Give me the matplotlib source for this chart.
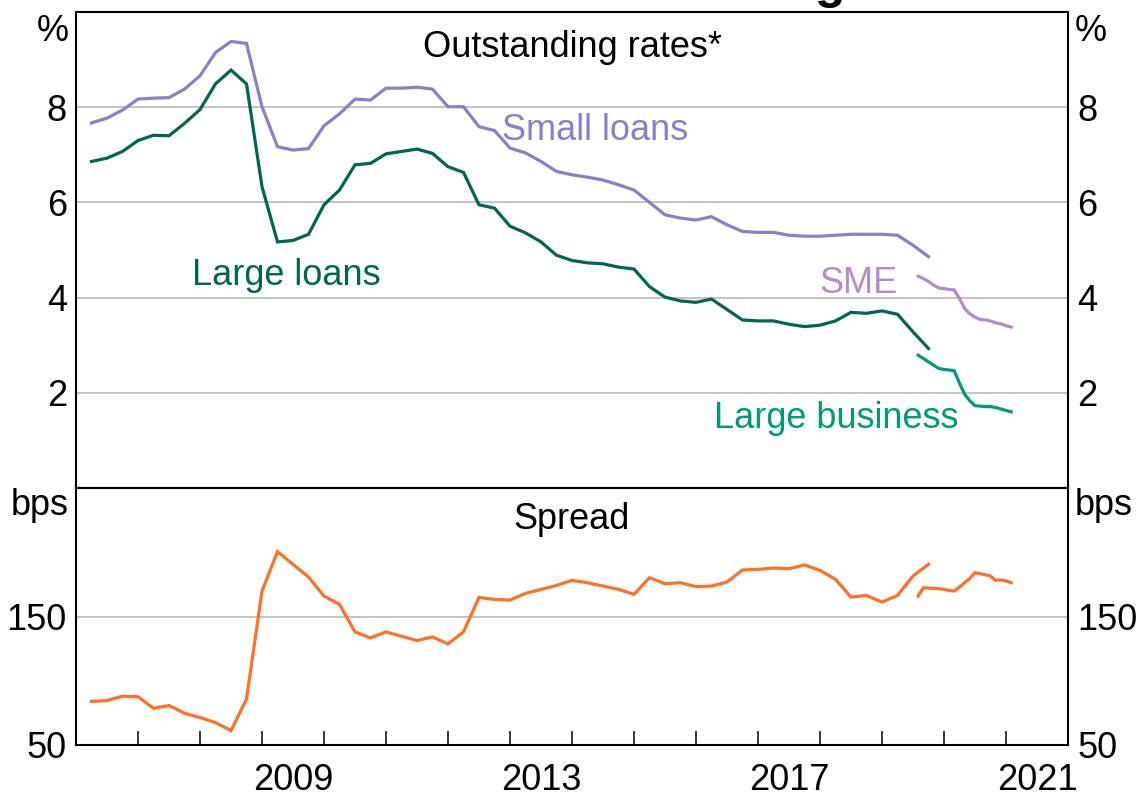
import matplotlib
matplotlib.use('Agg')
import matplotlib.pyplot as plt
import pandas as pd

plt.rcParams['font.family'] = ['Liberation Sans', 'DejaVu Sans']

# ---------------- data ----------------
quarters = pd.date_range('2006-03-31', '2019-09-30', freq='QE')
small_loans = [7.67, 7.77, 7.94, 8.17, 8.19, 8.20, 8.38, 8.66, 9.15, 9.38,
               9.34, 8.01, 7.17, 7.10, 7.13, 7.61, 7.86, 8.17, 8.15, 8.40,
               8.40, 8.42, 8.38, 8.01, 8.01, 7.59, 7.51, 7.14, 7.04, 6.86,
               6.65, 6.58, 6.53, 6.47, 6.37, 6.26, 6.00, 5.74, 5.67, 5.63,
               5.70, 5.53, 5.39, 5.37, 5.37, 5.31, 5.29, 5.29, 5.31, 5.33,
               5.33, 5.33, 5.31, 5.10, 4.86]
large_loans = [6.86, 6.93, 7.07, 7.30, 7.41, 7.40, 7.66, 7.95, 8.49, 8.78,
               8.49, 6.33, 5.17, 5.20, 5.33, 5.95, 6.26, 6.79, 6.82, 7.02,
               7.07, 7.12, 7.03, 6.75, 6.63, 5.95, 5.88, 5.50, 5.36, 5.17,
               4.89, 4.78, 4.73, 4.71, 4.64, 4.60, 4.23, 4.01, 3.93, 3.90,
               3.97, 3.75, 3.53, 3.51, 3.51, 3.44, 3.39, 3.42, 3.51, 3.69,
               3.67, 3.72, 3.65, 3.28, 2.93]
spread_old = [83.9, 84.6, 88.0, 87.5, 78.6, 80.7, 74.7, 71.4, 67.4, 61.2,
              85.7, 169.8, 200.5, 190.6, 180.7, 165.9, 159.4, 138.0, 133.3, 138.0,
              134.6, 131.3, 134.1, 128.6, 138.0, 164.8, 163.3, 162.8, 168.0, 171.1,
              174.2, 178.1, 176.3, 173.7, 171.1, 167.2, 180.2, 175.5, 176.3, 173.2,
              173.7, 176.8, 186.2, 186.7, 187.7, 187.2, 190.1, 185.9, 178.9, 165.1,
              166.4, 161.2, 166.4, 181.5, 190.6]

months = pd.date_range('2019-07-31', '2021-01-31', freq='ME')
sme = [4.45, 4.40, 4.34, 4.26, 4.20, 4.19, 4.17, 4.16, 3.98, 3.77,
       3.66, 3.59, 3.54, 3.53, 3.51, 3.47, 3.45, 3.41, 3.38]
large_business = [2.79, 2.72, 2.65, 2.58, 2.51, 2.49, 2.48, 2.46, 2.20, 1.97,
                  1.83, 1.73, 1.72, 1.71, 1.71, 1.69, 1.66, 1.63, 1.60]
spread_new = [165.9, 172.4, 172.1, 171.9, 171.6, 171.1, 170.3, 169.8, 172.9, 176.3,
              179.7, 184.1, 183.3, 182.5, 181.5, 178.1, 178.4, 177.6, 176.3]

year_labels = ['2009', '2013', '2017', '2021']
top_ticks = [2, 4, 6, 8]
bottom_ticks = [50, 150]


def dec_year(idx):
    return [d.year + d.month / 12.0 for d in idx]


xq = dec_year(quarters)
xm = dec_year(months)

# ---------------- colours ----------------
c_small = '#8a7fcc'
c_large = '#00664f'
c_sme = '#b48cc6'
c_lbus = '#00997a'
c_spread = '#ff7126'
c_grid = '#b4b4b4'

W, H = 1137, 800
fig = plt.figure(figsize=(W / 100, H / 100), dpi=100)
L, R = 76, 1068
ax1 = fig.add_axes([L / W, 1 - 488 / H, (R - L) / W, 476 / H])
ax2 = fig.add_axes([L / W, 1 - 745 / H, (R - L) / W, 257 / H])

FS = 26
LW = 2.3

for ax in (ax1, ax2):
    ax.set_xlim(2006, 2022)
    for s in ax.spines.values():
        s.set_linewidth(1.5)
        s.set_color('black')
    ax.tick_params(axis='y', which='both', left=False, right=False,
                   labelleft=True, labelright=True, labelsize=FS, pad=3)

# top panel
ax1.set_ylim(0, 10)
ax1.set_yticks(top_ticks)
ax1.set_yticklabels([str(t) for t in top_ticks])
for t in top_ticks:
    ax1.axhline(t, color=c_grid, lw=1.1, zorder=0)
ax1.tick_params(axis='x', which='both', bottom=False, top=False,
                labelbottom=False)
ax1.plot(xq, small_loans, color=c_small, lw=LW, solid_joinstyle='miter')
ax1.plot(xq, large_loans, color=c_large, lw=LW, solid_joinstyle='miter')
ax1.plot(xm, sme, color=c_sme, lw=LW, solid_joinstyle='miter')
ax1.plot(xm, large_business, color=c_lbus, lw=LW, solid_joinstyle='miter')

ax1.text(0.5, 0.905, 'Outstanding rates*', transform=ax1.transAxes,
         ha='center', va='baseline', fontsize=FS)
ax1.text(2014.37, 7.31, 'Small loans', color=c_small, ha='center',
         va='baseline', fontsize=FS)
ax1.text(2009.40, 4.26, 'Large loans', color=c_large, ha='center',
         va='baseline', fontsize=FS)
ax1.text(2018.62, 4.09, 'SME', color=c_sme, ha='center',
         va='baseline', fontsize=FS)
ax1.text(2018.27, 1.27, 'Large business', color=c_lbus, ha='center',
         va='baseline', fontsize=FS)

# bottom panel
ax2.set_ylim(50, 250)
ax2.set_yticks(bottom_ticks)
ax2.set_yticklabels([str(t) for t in bottom_ticks])
ax2.axhline(150, color=c_grid, lw=1.1, zorder=0)
ax2.plot(xq, spread_old, color=c_spread, lw=LW, solid_joinstyle='miter')
ax2.plot(xm, spread_new, color=c_spread, lw=LW, solid_joinstyle='miter')
ax2.text(0.5, 0.839, 'Spread', transform=ax2.transAxes,
         ha='center', va='baseline', fontsize=FS)

ax2.set_xticks(list(range(2007, 2022)))
ax2.set_xticklabels([])
ax2.set_xticks([int(y) + 0.5 for y in year_labels], minor=True)
ax2.set_xticklabels(year_labels, minor=True)
ax2.tick_params(axis='x', which='major', direction='in', length=10,
                width=1.1, color='black', top=False, bottom=True)
ax2.tick_params(axis='x', which='minor', length=0, labelsize=FS, pad=13)

# unit labels
def ftext(xp, yp, s, **kw):
    fig.text(xp / W, 1 - yp / H, s, fontsize=FS, va='baseline', **kw)

ftext(69, 41, '%', ha='right')
ftext(1075, 41, '%', ha='left')
ftext(69, 515, 'bps', ha='right')
ftext(1075, 515, 'bps', ha='left')

# partially visible title (cropped at top)
title = 'Business Lending Rates'
TFS = 36
fig.canvas.draw()
rend = fig.canvas.get_renderer()
tmp = fig.text(0, 0, 'Business Lendin', fontsize=TFS, fontweight='bold')
wpre = tmp.get_window_extent(rend).width
tmp.remove()
fig.text((815 - wpre) / W, 1 + 2.5 / H, title, fontsize=TFS,
         fontweight='bold', ha='left', va='baseline')

fig.savefig('out.png', dpi=100)
